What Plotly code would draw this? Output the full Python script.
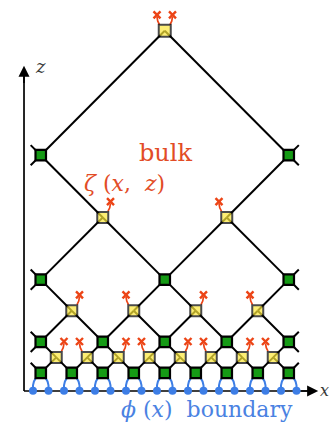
import plotly.graph_objects as go

# ---- MERA network data -------------------------------------------------
# boundary sites (lattice index along x)
site_x = [0, 1, 2, 3, 4, 5, 6, 7, 8, 9, 10, 11, 12, 13, 14, 15, 16, 17]
site_z = -0.15

# disentanglers (green) per layer: x positions and height
green_x = [
    [0.5, 2.5, 4.5, 6.5, 8.5, 10.5, 12.5, 14.5, 16.5],
    [0.5, 4.5, 8.5, 12.5, 16.5],
    [0.5, 8.5, 16.5],
    [0.5, 16.5],
]
green_z = [1, 3, 7, 15]

# isometries (yellow) per layer: x positions, height and half-width
yellow_x = [
    [1.5, 3.5, 5.5, 7.5, 9.5, 11.5, 13.5, 15.5],
    [2.5, 6.5, 10.5, 14.5],
    [4.5, 12.5],
    [8.5],
]
yellow_z = [2, 5, 11, 23]
yellow_d = [1, 2, 4, 8]

edge_x = [0.5, 16.5]

# ---- colours -----------------------------------------------------------
GREEN = "#159a15"
YELLOW = "#fde83a"
ORANGE = "#ec4416"
BLUE = "#3d7ee6"
TEXT_ORANGE = "#e24c26"
TEXT_BLUE = "#4a82e2"

# ---- build line paths --------------------------------------------------
bx, bz = [], []          # black network bonds
ox, oz = [], []          # orange open legs
mx, mz = [], []          # orange cross markers
lx, lz = [], []          # blue physical legs

def seg(xs, zs, pts):
    for p in pts:
        xs.append(p[0]); zs.append(p[1])
    xs.append(None); zs.append(None)

for k, (xs_k, zy, d) in enumerate(zip(yellow_x, yellow_z, yellow_d)):
    above = green_x[k + 1] if k + 1 < len(green_x) else []
    for x in xs_k:
        for s in (-1, 1):
            seg(bx, bz, [(x, zy), (x + s * d, zy - d)])
            if (x + s * d) in above:
                seg(bx, bz, [(x, zy), (x + s * d, zy + d)])
            else:
                seg(ox, oz, [(x + s * 0.34, zy + 0.4), (x + s * 0.45, zy + 0.62),
                             (x + s * 0.5, zy + 0.9)])
                mx.append(x + s * 0.5); mz.append(zy + 1.02)

# outward stubs on the edge disentanglers
STUB = 0.65
for k, (xs_k, zg) in enumerate(zip(green_x, green_z)):
    for x in xs_k:
        if x in edge_x:
            s = -1 if x == edge_x[0] else 1
            seg(bx, bz, [(x, zg), (x + s * STUB, zg + STUB)])
            if k > 0:
                seg(bx, bz, [(x, zg), (x + s * STUB, zg - STUB)])

# physical legs from boundary sites to the lowest layer
for x in green_x[0]:
    for s in (-1, 1):
        seg(lx, lz, [(x + s * 0.5, site_z), (x + s * 0.5, 0.2),
                     (x + s * 0.44, 0.45), (x + s * 0.33, 0.64)])

# ---- axes geometry -----------------------------------------------------
AX0_X, AX0_Z = -0.58, -0.16
AX_X_END = 18.4
AX_Z_END = 20.75

fig = go.Figure()

fig.add_trace(go.Scatter(x=[AX0_X, AX_X_END - 0.3, None, AX0_X, AX0_X],
                         y=[AX0_Z, AX0_Z, None, AX0_Z, AX_Z_END - 0.3],
                         mode="lines", line=dict(color="black", width=1.7),
                         hoverinfo="skip"))
fig.add_trace(go.Scatter(x=bx, y=bz, mode="lines",
                         line=dict(color="black", width=2), hoverinfo="skip"))
fig.add_trace(go.Scatter(x=ox, y=oz, mode="lines",
                         line=dict(color=ORANGE, width=1.7), hoverinfo="skip"))
fig.add_trace(go.Scatter(x=mx, y=mz, mode="markers",
                         marker=dict(symbol="x-thin", size=7,
                                     line=dict(color=ORANGE, width=2.4)),
                         hoverinfo="skip"))
fig.add_trace(go.Scatter(x=lx, y=lz, mode="lines",
                         line=dict(color=BLUE, width=2), hoverinfo="skip"))
fig.add_trace(go.Scatter(x=site_x, y=[site_z] * len(site_x), mode="markers",
                         marker=dict(symbol="circle", size=8, color=BLUE),
                         hoverinfo="skip"))

gx = [x for row in green_x for x in row]
gz = [z for row, z in zip(green_x, green_z) for _ in row]
fig.add_trace(go.Scatter(x=gx, y=gz, mode="markers",
                         marker=dict(symbol="square", size=10.5, color=GREEN,
                                     line=dict(color="black", width=2.2)),
                         hoverinfo="skip"))
yx = [x for row in yellow_x for x in row]
yz = [z for row, z in zip(yellow_x, yellow_z) for _ in row]
ys = [11 if z < yellow_z[-1] else 12 for z in yz]
fig.add_trace(go.Scatter(x=yx, y=yz, mode="markers",
                         marker=dict(symbol="square", size=ys, color=YELLOW,
                                     line=dict(color="black", width=2)),
                         hoverinfo="skip"))

SERIF = "DejaVu Serif"
annotations = [
    # arrow heads of the coordinate axes
    dict(x=AX_X_END, y=AX0_Z, ax=AX_X_END - 1.2, ay=AX0_Z, xref="x", yref="y",
         axref="x", ayref="y", showarrow=True, arrowhead=2, arrowsize=1.3,
         arrowwidth=1.7, arrowcolor="black", text=""),
    dict(x=AX0_X, y=AX_Z_END, ax=AX0_X, ay=AX_Z_END - 1.2, xref="x", yref="y",
         axref="x", ayref="y", showarrow=True, arrowhead=2, arrowsize=1.3,
         arrowwidth=1.7, arrowcolor="black", text=""),
    dict(x=0.5, y=20.7, text="<i>z</i>", showarrow=False,
         font=dict(family=SERIF, size=18, color="#3a3a3a")),
    dict(x=18.82, y=-0.12, text="<i>x</i>", showarrow=False,
         font=dict(family=SERIF, size=16, color="#3a3a3a")),
    dict(x=8.55, y=15.15, text="bulk", showarrow=False,
         font=dict(family=SERIF, size=24, color=TEXT_ORANGE)),
    dict(x=5.9, y=13.2, text="<i>ζ</i> (<i>x</i>,  <i>z</i>)", showarrow=False,
         font=dict(family=SERIF, size=22, color=TEXT_ORANGE)),
    dict(x=11.2, y=-1.38, text="<i>ϕ</i> (<i>x</i>)  boundary", showarrow=False,
         font=dict(family=SERIF, size=22, color=TEXT_BLUE)),
]

fig.update_layout(
    width=331, height=423,
    margin=dict(l=0, r=0, t=0, b=0),
    paper_bgcolor="white", plot_bgcolor="white",
    showlegend=False,
    xaxis=dict(range=[-2.129, 19.226], visible=False, fixedrange=True),
    yaxis=dict(range=[-2.219, 24.98], visible=False, fixedrange=True),
    annotations=annotations,
)

fig.write_html("out.html")
